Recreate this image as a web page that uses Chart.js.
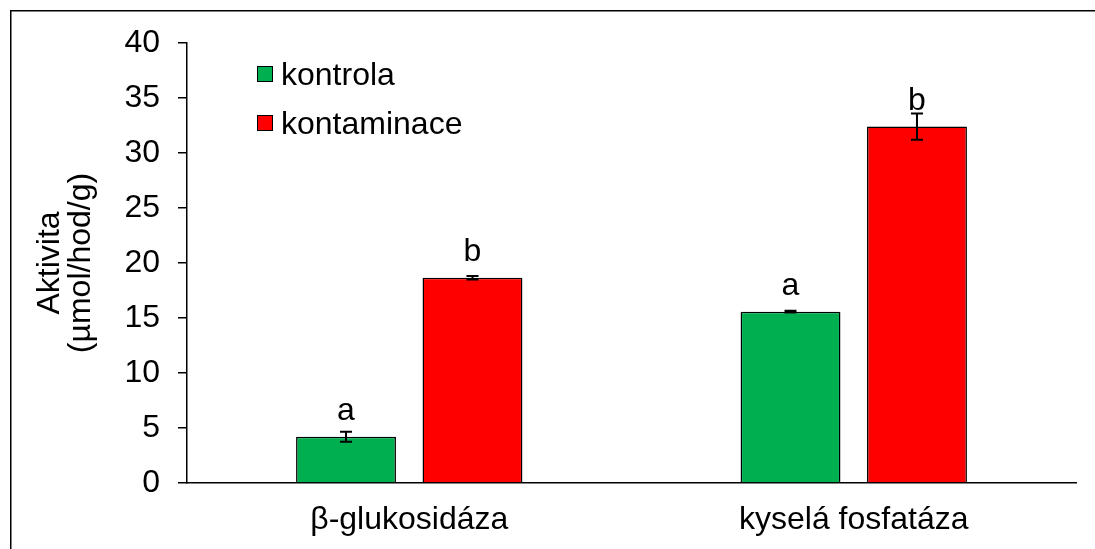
<!DOCTYPE html>
<html>
<head>
<meta charset="utf-8">
<script src="https://cdn.jsdelivr.net/npm/chart.js@4/dist/chart.umd.min.js"></script>
<style>
  html, body { margin: 0; padding: 0; background: #fff; overflow: hidden; }
  #graf { display: block; }
</style>
</head>
<body>
<canvas id="graf" width="1095" height="549"></canvas>
<script>
// ── DATA ──────────────────────────────────────────
const kategorie        = ['β-glukosidáza', 'kyselá fosfatáza'];
const kontrola         = [4.2, 15.57];
const kontrolaChyba    = [0.45, 0.08];
const kontaminace      = [18.66, 32.4];
const kontaminaceChyba = [0.15, 1.2];
const pismenaKontrola    = ['a', 'a'];
const pismenaKontaminace = ['b', 'b'];
const osaY = { min: 0, max: 40, krok: 5 };

// ── BARVY ─────────────────────────────────────────
const BARVY = { zelena: '#00B050', cervena: '#FF0000', cerna: '#000000' };
const PISMO = 'Liberation Sans, Arial, sans-serif';

// rámeček kolem celého obrázku (vpravo a dole je oříznutý)
const ramecek = {
  id: 'ramecek',
  beforeDraw(chart) {
    const ctx = chart.ctx;
    ctx.save();
    ctx.fillStyle = '#fff';
    ctx.fillRect(0, 0, chart.width, chart.height);
    ctx.fillStyle = '#000';
    ctx.fillRect(10, 10, 1.5, chart.height - 10);
    ctx.fillRect(10, 10, chart.width - 10, 1.5);
    ctx.restore();
  }
};

// chybové úsečky + písmena nad sloupci
const chyby = {
  id: 'chyby',
  afterDatasetsDraw(chart) {
    const ctx = chart.ctx;
    const y = chart.scales.y;
    const sady = [
      { hodnoty: kontrola, chyba: kontrolaChyba, pismena: pismenaKontrola },
      { hodnoty: kontaminace, chyba: kontaminaceChyba, pismena: pismenaKontaminace }
    ];
    ctx.save();
    sady.forEach(function(s, i) {
      chart.getDatasetMeta(i).data.forEach(function(bar, j) {
        const x = bar.x;
        const horni = y.getPixelForValue(s.hodnoty[j] + s.chyba[j]);
        const dolni = y.getPixelForValue(s.hodnoty[j] - s.chyba[j]);
        ctx.strokeStyle = '#000';
        ctx.lineWidth = 2;
        ctx.beginPath();
        ctx.moveTo(x, horni); ctx.lineTo(x, dolni);
        ctx.moveTo(x - 6, horni); ctx.lineTo(x + 6, horni);
        ctx.moveTo(x - 6, dolni); ctx.lineTo(x + 6, dolni);
        ctx.stroke();

        ctx.fillStyle = '#000';
        ctx.font = '32px ' + PISMO;
        ctx.textAlign = 'center';
        ctx.textBaseline = 'alphabetic';
        ctx.fillText(s.pismena[j], x, y.getPixelForValue(s.hodnoty[j]) - 17);
      });
    });
    ctx.restore();
  }
};

// legenda uvnitř grafu
const legenda = {
  id: 'legenda',
  afterDraw(chart) {
    const ctx = chart.ctx;
    ctx.save();
    chart.data.datasets.forEach(function(d, i) {
      const top = 66 + i * 49;
      ctx.fillStyle = d.backgroundColor;
      ctx.fillRect(257, top, 16, 16);
      ctx.strokeStyle = '#000';
      ctx.lineWidth = 1;
      ctx.strokeRect(257.5, top + 0.5, 15, 15);
      ctx.fillStyle = '#000';
      ctx.font = '32px ' + PISMO;
      ctx.textAlign = 'left';
      ctx.textBaseline = 'alphabetic';
      ctx.fillText(d.label, 281, top + 19);
    });
    ctx.restore();
  }
};

new Chart(document.getElementById('graf'), {
  type: 'bar',
  data: {
    labels: kategorie,
    datasets: [
      {
        label: 'kontrola',
        data: kontrola,
        backgroundColor: BARVY.zelena,
        borderColor: BARVY.cerna,
        borderWidth: 1.5,
        categoryPercentage: 0.569,
        barPercentage: 0.79
      },
      {
        label: 'kontaminace',
        data: kontaminace,
        backgroundColor: BARVY.cervena,
        borderColor: BARVY.cerna,
        borderWidth: 1.5,
        categoryPercentage: 0.569,
        barPercentage: 0.79
      }
    ]
  },
  options: {
    responsive: false,
    animation: false,
    layout: { padding: { left: 0, right: 19, top: 43, bottom: 0 } },
    plugins: { legend: { display: false }, tooltip: { enabled: false } },
    scales: {
      x: {
        grid: { display: false, drawTicks: false },
        border: { display: true, color: '#000', width: 1.5 },
        ticks: { color: '#000', padding: 18, font: { family: PISMO, size: 32 } },
        afterFit(s) { s.height = 66; }
      },
      y: {
        min: osaY.min,
        max: osaY.max,
        ticks: { stepSize: osaY.krok, color: '#000', padding: 18, font: { family: PISMO, size: 32 } },
        grid: { drawOnChartArea: false, drawTicks: true, tickLength: 9, color: '#000', lineWidth: 1.5 },
        border: { display: true, color: '#000', width: 1.5 },
        title: {
          display: true,
          text: ['Aktivita', '(µmol/hod/g)'],
          color: '#000',
          font: { family: PISMO, size: 32, lineHeight: 0.97 },
          padding: { top: 35, bottom: 0 }
        },
        afterFit(s) { s.width = 187; }
      }
    }
  },
  plugins: [ramecek, chyby, legenda]
});
</script>
</body>
</html>
